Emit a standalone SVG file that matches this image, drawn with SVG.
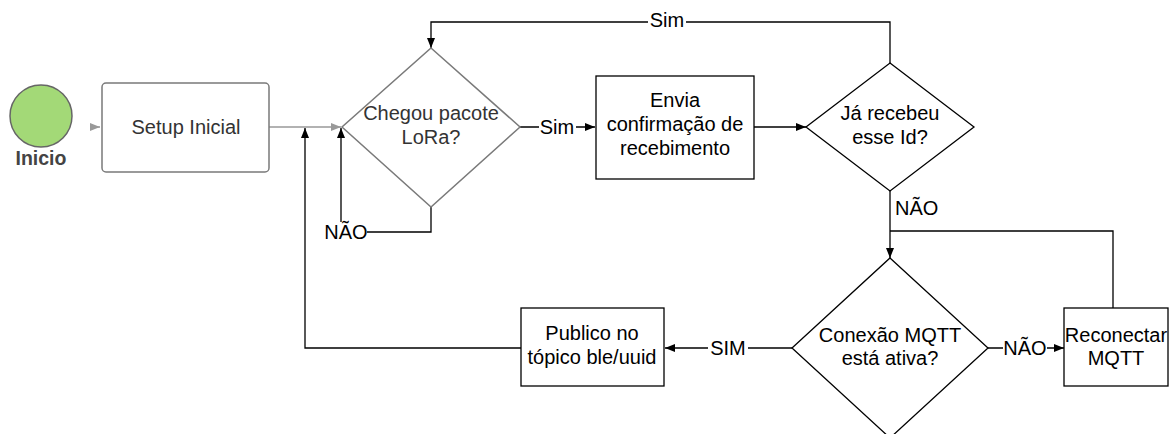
<svg xmlns="http://www.w3.org/2000/svg" width="1174" height="434" viewBox="0 0 1174 434">
<style>
text{font-family:"Liberation Sans",Arial,sans-serif;font-size:20px;text-anchor:middle}
.g{fill:#fff;stroke:#7a7a7a;stroke-width:1.5}
.b{fill:#fff;stroke:#000;stroke-width:1.3}
.gt{fill:#333}
.bt{fill:#000}
.ln{fill:none;stroke:#000;stroke-width:1.3}
.lg{fill:none;stroke:#999;stroke-width:1.5}
.lab{fill:#fff;stroke:none}
</style>
<defs>
<marker id="ab" markerWidth="10" markerHeight="8" refX="10" refY="4" orient="auto" markerUnits="userSpaceOnUse"><path d="M0,0 L10,4 L0,8 Z" fill="#000"/></marker>
<marker id="ag" markerWidth="10" markerHeight="8" refX="10" refY="4" orient="auto" markerUnits="userSpaceOnUse"><path d="M0,0 L10,4 L0,8 Z" fill="#999"/></marker>
</defs>
<g id="connectors">
<path class="lg" d="M90,127 H100" marker-end="url(#ag)"/>
<path class="lg" d="M269,127 H341" marker-end="url(#ag)"/>
<path class="ln" d="M431,207 V232 H341 V128" marker-end="url(#ab)"/>
<path class="ln" d="M520,127 H595" marker-end="url(#ab)"/>
<path class="ln" d="M754,127 H806" marker-end="url(#ab)"/>
<path class="ln" d="M890,63 V22 H431 V48" marker-end="url(#ab)"/>
<path class="ln" d="M890,191 V258" marker-end="url(#ab)"/>
<path class="ln" d="M1113,308 V231 H890"/>
<path class="ln" d="M988,348 H1064" marker-end="url(#ab)"/>
<path class="ln" d="M792,348 H665" marker-end="url(#ab)"/>
<path class="ln" d="M521,348 H305 V128" marker-end="url(#ab)"/>
<rect class="lab" x="648" y="12" width="38" height="20"/>
<text class="bt" x="667" y="27">Sim</text>
<rect class="lab" x="539" y="117" width="37" height="20"/>
<text class="bt" x="557" y="134">Sim</text>
<rect class="lab" x="325" y="222" width="42" height="20"/>
<text class="bt" x="346" y="239">NÃO</text>
<text class="bt" x="895" y="215" style="text-anchor:start">NÃO</text>
<rect class="lab" x="1003" y="338" width="44" height="20"/>
<text class="bt" x="1025" y="355">NÃO</text>
<rect class="lab" x="708" y="338" width="40" height="20"/>
<text class="bt" x="728" y="355">SIM</text>
</g>
<g id="inicio">
<circle cx="41" cy="116" r="31" fill="#a3d977" stroke="#666" stroke-width="1.5"/>
<text x="41" y="165" style="font-weight:bold;font-size:19.5px;fill:#444">Inicio</text>
</g>
<g id="setup">
<rect class="g" x="102" y="83" width="167" height="89" rx="4"/>
<text class="gt" x="186" y="134">Setup Inicial</text>
</g>
<g id="chegou">
<path class="g" d="M431,48 L520,127 L431,207 L342,127 Z"/>
<text class="gt" x="431" y="120">Chegou pacote</text>
<text class="gt" x="431" y="144">LoRa?</text>
</g>
<g id="envia">
<rect class="b" x="596" y="76" width="158" height="103"/>
<text class="bt" x="675" y="107">Envia</text>
<text class="bt" x="675" y="131">confirmação de</text>
<text class="bt" x="675" y="155">recebimento</text>
</g>
<g id="jarecebeu">
<path class="b" d="M890,63 L974,127 L890,191 L806,127 Z"/>
<text class="bt" x="890" y="120">Já recebeu</text>
<text class="bt" x="890" y="144">esse Id?</text>
</g>
<g id="conexao">
<path class="b" d="M890,258 L988,348 L890,438 L792,348 Z"/>
<text class="bt" x="890" y="342">Conexão MQTT</text>
<text class="bt" x="890" y="365">está ativa?</text>
</g>
<g id="reconectar">
<rect class="b" x="1064" y="308" width="104" height="78"/>
<text class="bt" x="1116" y="342">Reconectar</text>
<text class="bt" x="1116" y="365">MQTT</text>
</g>
<g id="publico">
<rect class="b" x="521" y="308" width="143" height="78"/>
<text class="bt" x="592" y="340">Publico no</text>
<text class="bt" x="592" y="364">tópico ble/uuid</text>
</g>
</svg>
